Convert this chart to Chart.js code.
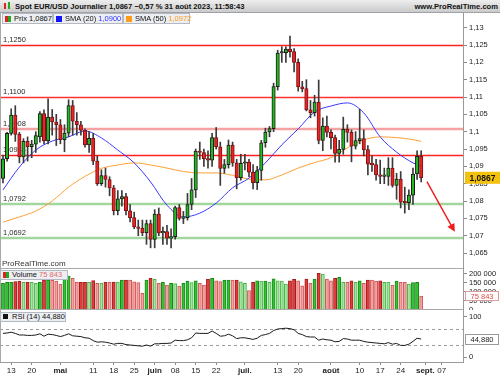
<!DOCTYPE html>
<html><head><meta charset="utf-8">
<script src="https://cdn.jsdelivr.net/npm/chart.js@4.4.1/dist/chart.umd.min.js"></script>
<style>
html,body{margin:0;padding:0;background:#fff;}
body{position:relative;width:500px;height:375px;overflow:hidden;font-family:'Liberation Sans',Arial,sans-serif;color:#111;}
canvas{position:absolute;left:0;}
.ov{position:absolute;white-space:nowrap;}
#hdr{left:0;top:0;width:500px;height:13px;box-sizing:border-box;background:linear-gradient(#eeeeee,#cbcbcb);border-bottom:1px solid #9ea2a8;}
.hd{position:absolute;top:1px;font-size:7.6px;font-weight:bold;line-height:11px;color:#111;}
.lb{position:absolute;height:11px;box-sizing:border-box;background:#eceef2;border:1px solid #b4b8c0;font-size:7.5px;line-height:9px;padding-left:11px;color:#111;white-space:nowrap;}
.sq{position:absolute;left:2px;top:2px;width:5px;height:5px;}
</style></head><body>
<canvas id="cp" width="500" height="256" style="top:13px;width:500px;height:256px"></canvas>
<canvas id="cv" width="500" height="41" style="top:269px;width:500px;height:41px"></canvas>
<canvas id="cr" width="500" height="65" style="top:310px;width:500px;height:65px"></canvas>

<div class="ov" id="hdr">
  <div style="position:absolute;left:4px;top:3px;width:2px;height:6px;background:#d22;"></div>
  <div style="position:absolute;left:8px;top:2px;width:2px;height:7px;background:#2a2;"></div>
  <div class="hd" id="htxt" style="left:15px"></div>
  <div class="hd" style="right:2px">www.ProRealTime.com</div>
</div>
<div class="lb" id="lg1" style="left:2px;top:13px;width:51px;">
  <div class="sq" style="width:3px;height:6px;background:#d22;"></div><div class="sq" style="left:5px;width:3px;height:6px;background:#2a2;"></div><span id="l1"></span></div>
<div class="lb" id="lg2" style="left:53px;top:13px;width:70px;">
  <div class="sq" style="width:6px;height:6px;background:#1212ff;"></div><span>SMA (20) </span><span id="l2" style="color:#3333ff"></span></div>
<div class="lb" id="lg3" style="left:123px;top:13px;width:67px;">
  <div class="sq" style="width:6px;height:6px;background:#ff9a1a;"></div><span>SMA (50) </span><span id="l3" style="color:#ff9a1a"></span></div>
<div class="ov" style="left:2px;top:259px;font-size:8px;line-height:9px;color:#333;">ProRealTime.com</div>
<div class="lb" style="left:0px;top:270px;width:68px;height:10px;line-height:8px;">
  <div class="sq" style="top:1px;width:3px;height:6px;background:#d22;"></div><div class="sq" style="left:5px;top:1px;width:3px;height:6px;background:#2a2;"></div><span>Volume </span><span id="l4" style="color:#e06a6a"></span></div>
<div class="lb" style="left:0px;top:312px;width:66px;height:10px;line-height:8px;">
  <div class="sq" style="top:1px;width:5px;height:5px;background:#111;"></div><span>RSI (14) </span><span id="l5"></span></div>

<script>
// ---------------- DATA ----------------
const dates = [
 '04-11','04-12','04-13','04-14','04-17','04-18','04-19','04-20','04-21','04-24',
 '04-25','04-26','04-27','04-28','05-01','05-02','05-03','05-04','05-05','05-08',
 '05-09','05-10','05-11','05-12','05-15','05-16','05-17','05-18','05-19','05-22',
 '05-23','05-24','05-25','05-26','05-29','05-30','05-31','06-01','06-02','06-05',
 '06-06','06-07','06-08','06-09','06-12','06-13','06-14','06-15','06-16','06-19',
 '06-20','06-21','06-22','06-23','06-26','06-27','06-28','06-29','06-30','07-03',
 '07-04','07-05','07-06','07-07','07-10','07-11','07-12','07-13','07-14','07-17',
 '07-18','07-19','07-20','07-21','07-24','07-25','07-26','07-27','07-28','07-31',
 '08-01','08-02','08-03','08-04','08-07','08-08','08-09','08-10','08-11','08-14',
 '08-15','08-16','08-17','08-18','08-21','08-22','08-23','08-24','08-25','08-28',
 '08-29','08-30','08-31','09-01','09-04','09-05','09-06','09-07','09-08','09-11',
 '09-12','09-13','09-14','09-15'];
const open = [
 1.0865,1.0922,1.0995,1.1048,1.0992,1.0927,1.0972,1.0957,1.0964,1.0985,
 1.1052,1.0973,1.1042,1.1028,1.1020,1.0977,1.0996,1.1075,1.1030,1.1020,
 1.1004,1.0962,1.0981,1.0915,1.0850,1.0873,1.0862,1.0838,1.0772,1.0806,
 1.0813,1.0772,1.0752,1.0725,1.0721,1.0709,1.0735,1.0689,1.0762,1.0708,
 1.0712,1.0693,1.0697,1.0781,1.0750,1.0752,1.0790,1.0832,1.0944,1.0940,
 1.0922,1.0918,1.0983,1.0956,1.0894,1.0905,1.0961,1.0910,1.0867,1.0909,
 1.0912,1.0883,1.0853,1.0888,1.0968,1.0999,1.1009,1.1130,1.1227,1.1228,
 1.1238,1.1231,1.1200,1.1129,1.1124,1.1063,1.1055,1.1085,1.0975,1.1016,
 1.0998,1.0983,1.0937,1.0949,1.1007,1.0998,1.0958,1.0974,1.0980,1.0948,
 1.0906,1.0905,1.0875,1.0871,1.0871,1.0895,1.0845,1.0863,1.0797,1.0795,
 1.0817,1.0878,1.0929];
const high = [
 1.0932,1.0998,1.1066,1.1075,1.0998,1.0980,1.0985,1.0975,1.1000,1.1058,
 1.1063,1.1095,1.1064,1.1050,1.1035,1.1020,1.1092,1.1090,1.1055,1.1030,
 1.1008,1.1000,1.0995,1.0930,1.0890,1.0895,1.0870,1.0845,1.0830,1.0830,
 1.0822,1.0790,1.0768,1.0745,1.0745,1.0745,1.0745,1.0775,1.0780,1.0725,
 1.0730,1.0720,1.0785,1.0790,1.0770,1.0822,1.0865,1.0950,1.0970,1.0950,
 1.0945,1.0995,1.1012,1.0970,1.0920,1.0976,1.0970,1.0920,1.0935,1.0935,
 1.0920,1.0905,1.0900,1.0975,1.1010,1.1015,1.1140,1.1235,1.1245,1.1245,
 1.1276,1.1240,1.1210,1.1145,1.1150,1.1090,1.1105,1.1149,1.1040,1.1045,
 1.1005,1.0990,1.0975,1.1042,1.1020,1.1005,1.1000,1.1065,1.1005,1.0960,
 1.0930,1.0920,1.0918,1.0895,1.0925,1.0925,1.0880,1.0885,1.0840,1.0832,
 1.0895,1.0945,1.0945];
const low = [
 1.0852,1.0915,1.0990,1.0972,1.0910,1.0910,1.0915,1.0925,1.0940,1.0970,
 1.0965,1.0965,1.0990,1.0960,1.0965,1.0942,1.0985,1.0990,1.0990,1.0990,
 1.0955,1.0940,1.0905,1.0845,1.0845,1.0840,1.0815,1.0760,1.0760,1.0785,
 1.0760,1.0740,1.0720,1.0700,1.0700,1.0675,1.0665,1.0665,1.0700,1.0675,
 1.0675,1.0665,1.0690,1.0745,1.0735,1.0745,1.0775,1.0810,1.0920,1.0900,
 1.0895,1.0900,1.0950,1.0845,1.0880,1.0895,1.0900,1.0835,1.0860,1.0890,
 1.0870,1.0835,1.0833,1.0860,1.0955,1.0985,1.1000,1.1120,1.1200,1.1200,
 1.1215,1.1172,1.1117,1.1115,1.1060,1.1040,1.1045,1.0965,1.0945,1.0985,
 1.0950,1.0912,1.0912,1.0935,1.0970,1.0913,1.0950,1.0965,1.0930,1.0875,
 1.0885,1.0860,1.0850,1.0850,1.0845,1.0840,1.0805,1.0780,1.0765,1.0775,
 1.0790,1.0862,1.0855];
const close = [
 1.0922,1.0995,1.1048,1.0992,1.0927,1.0972,1.0957,1.0964,1.0989,1.1052,
 1.0973,1.1042,1.1028,1.1020,1.0977,1.0996,1.1075,1.1030,1.1020,1.1004,
 1.0962,1.0981,1.0915,1.0850,1.0873,1.0862,1.0838,1.0772,1.0806,1.0813,
 1.0772,1.0752,1.0725,1.0721,1.0709,1.0735,1.0689,1.0762,1.0708,1.0712,
 1.0693,1.0697,1.0781,1.0750,1.0752,1.0790,1.0832,1.0944,1.0940,1.0922,
 1.0918,1.0983,1.0956,1.0894,1.0905,1.0961,1.0910,1.0867,1.0909,1.0912,
 1.0883,1.0853,1.0888,1.0968,1.0999,1.1009,1.1130,1.1227,1.1228,1.1238,
 1.1231,1.1200,1.1129,1.1124,1.1063,1.1055,1.1085,1.0975,1.1016,1.0998,
 1.0983,1.0937,1.0949,1.1007,1.0998,1.0958,1.0974,1.0980,1.0948,1.0906,
 1.0905,1.0875,1.0871,1.0871,1.0895,1.0845,1.0863,1.0797,1.0795,1.0817,
 1.0878,1.0929,1.0867];
const volume = [
 146200,151800,152400,155300,158700,151500,152100,151900,146400,152300,
 163800,164200,163500,158900,141700,174100,186300,173800,151600,152200,
 152500,151700,162100,146300,145800,152400,151900,153300,152800,163600,
 164100,163900,155200,150300,91200,164400,173600,168200,145900,152100,
 137400,146100,145600,131200,146300,158800,150200,160300,146500,137100,
 168400,174200,160100,155400,163700,164300,163800,164200,155100,146200,
 106100,151800,160200,158700,159100,152300,170400,160100,158800,142300,
 160400,168100,159700,133200,170200,146100,169800,201300,196700,170100,
 160300,173900,179200,152100,151700,160200,152300,159800,146100,164200,
 163900,158600,160100,152200,151800,137300,158900,152100,151700,142200,
 150100,152300,75843];
const rsi = [
 59,60,62,59,55,55,54,54,55,58,
 52,57,56,54,51,54,58,53,52,51,
 48,47,41,37,38,37,35,32,34,34,
 31,30,29,28,27,30,27,33,33,34,
 34,35,42,41,41,43,48,60,59,59,
 59,65,59,52,53,57,53,46,48,48,
 46,44,47,54,56,59,66,70,71,72,
 71,68,59,56,51,50,50,42,45,43,
 42,38,39,46,45,42,42,42,39,37,
 36,35,34,33,36,32,34,29,29,32,
 39,47,44.88];
const smaDates = ['04-11','04-17','04-21','04-27','05-03','05-09','05-15','05-19','05-25','05-31',
 '06-06','06-12','06-16','06-22','06-28','07-04','07-10','07-14','07-20','07-26',
 '08-01','08-07','08-11','08-17','08-23','08-29','08-31'];
const sma20 = [1.0832,1.0898,1.0947,1.0973,1.0985,1.1002,1.0982,1.0947,1.0910,1.0855,
 1.0788,1.0754,1.0765,1.0794,1.0838,1.0866,1.0910,1.0962,1.1008,1.1057,
 1.1074,1.1083,1.1054,1.0985,1.0941,1.0910,1.0900];
const sma50 = [1.0739,1.0754,1.0771,1.0800,1.0840,1.0871,1.0894,1.0904,1.0910,1.0904,
 1.0895,1.0885,1.0881,1.0881,1.0874,1.0863,1.0861,1.0875,1.0895,1.0911,
 1.0925,1.0953,1.0976,1.0985,1.0983,1.0977,1.0972];
const levels = [1.1250,1.1100,1.1008,1.0934,1.0792,1.0692];
const levelLabels = ['1,1250','1,1100','1,1008','1,0934','1,0792','1,0692'];
const priceTicks = [1.065,1.07,1.075,1.08,1.085,1.09,1.095,1.1,1.105,1.11,1.115,1.12,1.125,1.13];
const priceTickLabels = ['1,065','1,07','1,075','1,08','1,085','1,09','1,095','1,1','1,105','1,11','1,115','1,12','1,125','1,13'];
const volTicks = [0,50000,100000,150000,200000];
const volTickLabels = ['0','50 000','100 000','150 000','200 000'];
const rsiTicks = [0,100];
const rsiTickLabels = ['0','100'];
const rsiLevels = [30,70];
const xTickDates = ['04-13','04-20','05-01','05-11','05-18','05-25','06-01','06-08','06-15','06-22','07-03','07-13','07-20','08-01','08-10','08-17','08-24','09-01','09-07'];
const xTickLabels = ['13','20','mai','11','18','25','juin','08','15','22','juil.','13','20','août','10','17','24','sept.','07'];
const arrowFrom = ['09-01',1.0856];
const arrowTo = ['09-12',1.0711];

// ---------------- STYLE ----------------
const levelStyle = [{c:'#ff2020',w:1.3},{c:'#ff3030',w:1.3},{c:'#f7a2a2',w:2.5},{c:'#ff2020',w:1.3},{c:'#a3d69e',w:2.5},{c:'#a3d69e',w:2.5}];
const FONT = "'Liberation Sans', Arial, sans-serif";
Chart.defaults.font.family = FONT;
Chart.defaults.font.size = 7.5;
Chart.defaults.color = '#222';

const N = close.length;
const idx = d => dates.indexOf(d);
const xMin = -0.73, xMax = 112.2;
const fmt4 = v => v.toFixed(4).replace('.', ',');
const fmtVol = v => String(v).replace(/\B(?=(\d{3})+(?!\d))/g, ' ');
const up = i => close[i] >= open[i];

// header + legends
const chg = (close[N-1]-close[N-2])/close[N-2]*100;
document.getElementById('htxt').textContent = 'Spot EUR/USD Journalier ' + fmt4(close[N-1]) + ' \u2212' + Math.abs(chg).toFixed(2).replace('.', ',') + ' % 31 août 2023, 11:58:43';
document.getElementById('l1').textContent = 'Prix ' + fmt4(close[N-1]);
document.getElementById('l2').textContent = fmt4(sma20[sma20.length-1]);
document.getElementById('l3').textContent = fmt4(sma50[sma50.length-1]);
document.getElementById('l4').textContent = fmtVol(volume[N-1]);
document.getElementById('l5').textContent = rsi[N-1].toFixed(3).replace('.', ',');

function yFit(s){ s.width = 37; s.paddingTop = 0; s.paddingBottom = 0; }
function xHidden(){ return {type:'linear', display:false, min:xMin, max:xMax, offset:false, grid:{offset:false}}; }
function yAxis(min, max, ticks, labels){
  return {position:'right', min, max, beginAtZero:false,
    afterBuildTicks: s => { s.ticks = ticks.map(v => ({value:v})); },
    afterFit: yFit,
    ticks:{callback:(v,i)=>labels[i], color:'#222', padding:2, autoSkip:false, font:{size:7.5}},
    grid:{drawOnChartArea:false, drawTicks:true, tickLength:4, color:'#8a8a8a'},
    border:{display:true, color:'#9a9a9a'}};
}
function box(ctx, x, y, w, h, txt, bg, bd, col, bold){
  ctx.save();
  ctx.fillStyle = bg; ctx.fillRect(x, y-h/2, w, h);
  if (bd){ ctx.strokeStyle = bd; ctx.lineWidth = 1; ctx.strokeRect(x+0.5, Math.round(y-h/2)+0.5, w-1, h-1); }
  ctx.fillStyle = col; ctx.font = (bold?'bold ':'') + (bold? '8.5px ':'7.5px ') + FONT;
  ctx.textAlign = 'center'; ctx.textBaseline = 'middle';
  ctx.fillText(txt, x+w/2, y+0.5);
  ctx.restore();
}
function frame(ctx, a){
  ctx.save(); ctx.strokeStyle = '#a9a9a9'; ctx.lineWidth = 1;
  ctx.beginPath(); ctx.moveTo(a.left+0.5, a.top); ctx.lineTo(a.left+0.5, a.bottom);
  ctx.moveTo(a.left, a.bottom-0.5); ctx.lineTo(a.right, a.bottom-0.5); ctx.stroke(); ctx.restore();
}

// ---------------- PRICE ----------------
const pricePlugin = {
  id:'pricePlugin',
  beforeDatasetsDraw(ch){
    const {ctx, chartArea:a, scales:{y}} = ch;
    levels.forEach((v,k)=>{
      const st = levelStyle[k];
      let py = y.getPixelForValue(v);
      py = st.w < 2 ? Math.round(py)+0.5 : Math.round(py);
      ctx.save();
      ctx.strokeStyle = st.c; ctx.lineWidth = st.w; ctx.setLineDash([]);
      ctx.beginPath(); ctx.moveTo(a.left, py); ctx.lineTo(a.right, py); ctx.stroke();
      ctx.restore();
      ctx.save();
      ctx.fillStyle = '#2a2a2a'; ctx.font = '7.5px ' + FONT; ctx.textBaseline = 'bottom'; ctx.textAlign='left';
      ctx.fillText(levelLabels[k], a.left+3, py-1.5);
      ctx.restore();
    });
  },
  afterDraw(ch){
    const {ctx, chartArea:a, scales:{x, y}} = ch;
    frame(ctx, a);
    const x1 = x.getPixelForValue(idx(arrowFrom[0])+0.4), y1 = y.getPixelForValue(arrowFrom[1]);
    const x2 = x.getPixelForValue(idx(arrowTo[0])+0.2), y2 = y.getPixelForValue(arrowTo[1]);
    const ang = Math.atan2(y2-y1, x2-x1);
    ctx.save(); ctx.strokeStyle = '#ee1b1b'; ctx.fillStyle = '#ee1b1b'; ctx.lineWidth = 1.4;
    ctx.beginPath(); ctx.moveTo(x1,y1); ctx.lineTo(x2-6*Math.cos(ang), y2-6*Math.sin(ang)); ctx.stroke();
    ctx.beginPath(); ctx.moveTo(x2,y2);
    ctx.lineTo(x2-8*Math.cos(ang)+4*Math.sin(ang), y2-8*Math.sin(ang)-4*Math.cos(ang));
    ctx.lineTo(x2-8*Math.cos(ang)-4*Math.sin(ang), y2-8*Math.sin(ang)+4*Math.cos(ang));
    ctx.closePath(); ctx.fill(); ctx.restore();
    const py = y.getPixelForValue(close[N-1]);
    box(ctx, a.right+2, py, 35, 12, fmt4(close[N-1]), '#f4c20d', null, '#111', true);
  }
};

new Chart(document.getElementById('cp'), {
  type:'bar',
  data:{datasets:[
    {type:'line', data: smaDates.map((d,k)=>({x:idx(d), y:sma50[k]})), borderColor:'#ffa033', borderWidth:1, pointRadius:0, cubicInterpolationMode:'monotone', order:5},
    {type:'line', data: smaDates.map((d,k)=>({x:idx(d), y:sma20[k]})), borderColor:'#3a3aff', borderWidth:1, pointRadius:0, cubicInterpolationMode:'monotone', order:4},
    {data: close.map((c,i)=>({x:i, y:[low[i], high[i]]})), backgroundColor:'#3a3a3a', barThickness:1, grouped:false, order:3},
    {data: close.map((c,i)=>({x:i, y:[open[i], close[i]]})),
      backgroundColor: c => up(c.dataIndex) ? '#21bb21' : '#e82424',
      borderColor: c => up(c.dataIndex) ? '#1a1a1a' : '#7a1212',
      borderWidth:1, borderSkipped:false, barThickness:3.4, minBarLength:1.5, grouped:false, order:2}
  ]},
  options:{responsive:false, animation:false, events:[], layout:{padding:0},
    plugins:{legend:{display:false}, tooltip:{enabled:false}},
    scales:{x: xHidden(), y: yAxis(1.06039, 1.13423, priceTicks, priceTickLabels)}},
  plugins:[pricePlugin]
});

// ---------------- VOLUME ----------------
const volPlugin = {
  id:'volPlugin',
  afterDraw(ch){
    const {ctx, chartArea:a, scales:{y}} = ch;
    frame(ctx, a);
    box(ctx, a.right+2, y.getPixelForValue(volume[N-1]), 34, 10, fmtVol(volume[N-1]), '#ffffff', '#d89a9a', '#e04848', false);
  }
};
const volColor = (i, light) => {
  const lt = i > 0 && volume[i] < volume[i-1];
  if (up(i)) return light ? (lt ? '#a8e3a2' : '#33c233') : (lt ? '#48b548' : '#188a18');
  return light ? (lt ? '#f2a3a3' : '#e23b3b') : (lt ? '#d45656' : '#a51c1c');
};
new Chart(document.getElementById('cv'), {
  type:'bar',
  data:{datasets:[{data: volume.map((v,i)=>({x:i, y:v})),
    backgroundColor: c => volColor(c.dataIndex, true), borderColor: c => volColor(c.dataIndex, false),
    borderWidth:1, borderSkipped:'bottom', barThickness:3.2, grouped:false}]},
  options:{responsive:false, animation:false, events:[], layout:{padding:0},
    plugins:{legend:{display:false}, tooltip:{enabled:false}},
    scales:{x: xHidden(), y: yAxis(0, 225000, volTicks, volTickLabels)}},
  plugins:[volPlugin]
});

// ---------------- RSI ----------------
const rsiPlugin = {
  id:'rsiPlugin',
  beforeDatasetsDraw(ch){
    const {ctx, chartArea:a, scales:{y}} = ch;
    ctx.save(); ctx.strokeStyle = '#9a9a9a'; ctx.lineWidth = 1; ctx.setLineDash([3,3]);
    rsiLevels.forEach(v => { const py = Math.round(y.getPixelForValue(v))+0.5;
      ctx.beginPath(); ctx.moveTo(a.left, py); ctx.lineTo(a.right, py); ctx.stroke(); });
    ctx.restore();
  },
  afterDraw(ch){
    const {ctx, chartArea:a, scales:{y}} = ch;
    ctx.save(); ctx.strokeStyle = '#a9a9a9'; ctx.lineWidth = 1;
    ctx.beginPath(); ctx.moveTo(a.left+0.5, a.top); ctx.lineTo(a.left+0.5, a.bottom); ctx.stroke(); ctx.restore();
    box(ctx, a.right+2, y.getPixelForValue(rsi[N-1]), 34, 11, rsi[N-1].toFixed(3).replace('.', ','), '#ffffff', '#9a9a9a', '#222', false);
  }
};
new Chart(document.getElementById('cr'), {
  type:'line',
  data:{datasets:[{data: rsi.map((v,i)=>({x:i, y:v})), borderColor:'#1a1a1a', borderWidth:1, pointRadius:0, tension:0}]},
  options:{responsive:false, animation:false, events:[], layout:{padding:0},
    plugins:{legend:{display:false}, tooltip:{enabled:false}},
    scales:{
      x:{type:'linear', min:xMin, max:xMax, offset:false,
        afterBuildTicks: s => { s.ticks = xTickDates.map(d => ({value: idx(d)})); },
        afterFit: s => { s.height = 13; s.paddingLeft = 0; s.paddingRight = 0; },
        ticks:{callback:(v,i)=>xTickLabels[i], autoSkip:false, maxRotation:0, minRotation:0, padding:1, color:'#222',
          font: c => ({size:8, weight: isNaN(parseInt(xTickLabels[c.index])) ? 'bold' : 'normal'})},
        grid:{drawOnChartArea:false, drawTicks:true, tickLength:3, color:'#8a8a8a'},
        border:{display:true, color:'#9a9a9a'}},
      y: yAxis(-12.5, 117.5, rsiTicks, rsiTickLabels)
    }},
  plugins:[rsiPlugin]
});
</script>
</body></html>
